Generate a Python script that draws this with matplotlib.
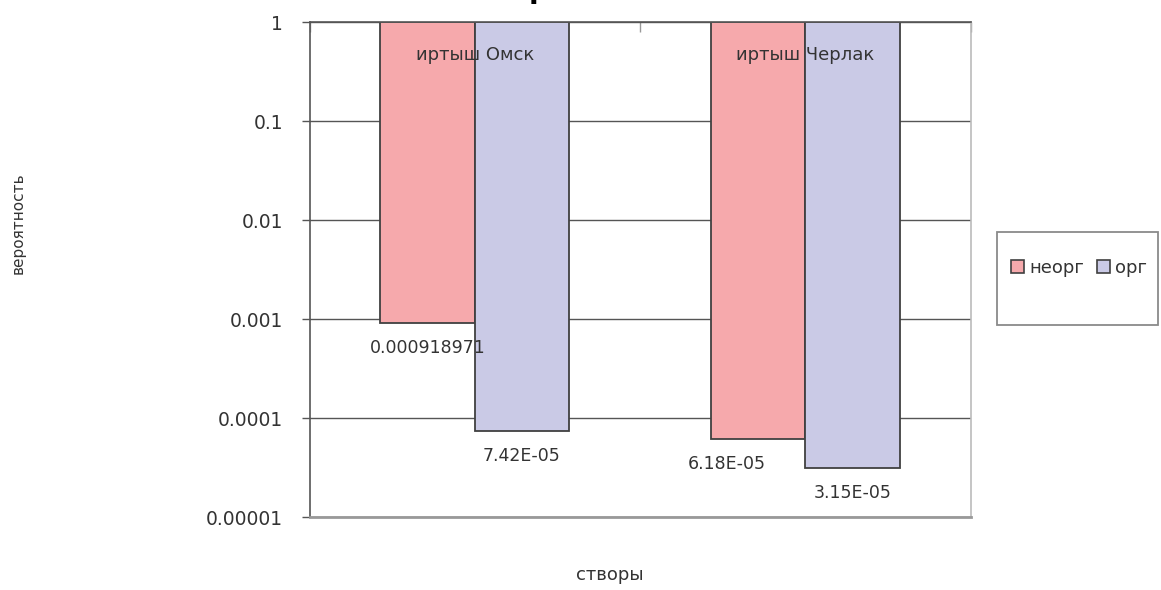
import matplotlib
matplotlib.use("Agg")
import matplotlib.pyplot as plt
from matplotlib.patches import Patch, Rectangle
from matplotlib.ticker import FixedLocator, NullLocator
import matplotlib.transforms as mtransforms

# ---- data ----
categories = ["иртыш Омск", "иртыш Черлак"]
series_names = ["неорг", "орг"]
neorg_values = [0.000918971, 6.18e-05]
org_values = [7.42e-05, 3.15e-05]
neorg_labels = ["0.000918971", "6.18E-05"]
org_labels = ["7.42E-05", "3.15E-05"]
ytick_values = [1e-5, 1e-4, 1e-3, 1e-2, 1e-1, 1]
ytick_labels = ["0.00001", "0.0001", "0.001", "0.01", "0.1", "1"]
x_label = "створы"
y_label = "вероятность"

# ---- style ----
red = "#F6A9AC"
blue = "#CACAE6"
edge = "#404040"
txt = "#333333"
W, H = 1161, 590

plt.rcParams["font.family"] = ["DejaVu Sans"]
fig = plt.figure(figsize=(W / 100, H / 100), dpi=100)
fig.patch.set_facecolor("white")

left, right, top, bottom = 309.5, 970.5, 22.3, 517.3
ax = fig.add_axes([left / W, 1 - bottom / H, (right - left) / W, (bottom - top) / H])
ax.set_yscale("log")
ax.set_ylim(ytick_values[0], ytick_values[-1])
ax.set_xlim(-0.5, len(categories) - 0.5)
ymax = ax.get_ylim()[1]

bw = 0.2857
xs = list(range(len(categories)))
for i, (vals, col) in enumerate([(neorg_values, red), (org_values, blue)]):
    pos = [x + (i - 0.5) * bw for x in xs]
    ax.bar(pos, [ymax - v for v in vals], bottom=vals, width=bw,
           color=col, edgecolor=edge, linewidth=1.3, zorder=3)

# data labels
label_dx = [[0, -22.3], [0, 0]]  # points, per series per category
for i, (vals, labs) in enumerate([(neorg_values, neorg_labels), (org_values, org_labels)]):
    for j, (v, lab) in enumerate(zip(vals, labs)):
        ax.annotate(lab, xy=(xs[j] + (i - 0.5) * bw, v), xytext=(label_dx[i][j], -18),
                    textcoords="offset points", ha="center", va="center",
                    fontsize=12.5, color=txt, zorder=5)

# category labels inside top of plot
trans = mtransforms.blended_transform_factory(ax.transData, ax.transAxes)
for x, c in zip(xs, categories):
    ax.text(x, 0.933, c, transform=trans, ha="center", va="center",
            fontsize=13, color=txt, zorder=5)

# y axis
ax.yaxis.set_major_locator(FixedLocator(ytick_values))
ax.yaxis.set_minor_locator(NullLocator())
ax.set_yticklabels(ytick_labels)
ax.tick_params(axis="y", direction="out", length=6, width=1, color="#555555",
               labelsize=13.5, labelcolor=txt, pad=13)
ax.grid(axis="y", color="#555555", linewidth=1.0, zorder=1)

# x axis ticks at top between categories
ax.xaxis.set_major_locator(FixedLocator([-0.5, 0.5, 1.5]))
ax.xaxis.set_minor_locator(NullLocator())
ax.tick_params(axis="x", which="both", bottom=False, top=True, direction="in",
               length=7, width=1, color="#999999", labelbottom=False, labeltop=False)

for s, sp in ax.spines.items():
    sp.set_zorder(4)
ax.spines["left"].set_color("#555555")
ax.spines["left"].set_linewidth(1.2)
ax.spines["top"].set_color("#555555")
ax.spines["top"].set_linewidth(1.2)
ax.spines["bottom"].set_color("#999999")
ax.spines["bottom"].set_linewidth(2)
ax.spines["right"].set_color("#bbbbbb")
ax.spines["right"].set_linewidth(1.2)

# axis titles
fig.text(18 / W, 1 - 223 / H, y_label, rotation=90, ha="center", va="center",
         fontsize=11, color=txt)
fig.text(610 / W, 1 - 575 / H, x_label, ha="center", va="center",
         fontsize=13, color=txt)

# cut-off title fragment at top
fig.text(529 / W, 1 + 1.5 / H, "р", ha="left", va="baseline",
         fontsize=20, fontweight="bold", color="black")

# legend
fig.patches.append(Rectangle((997.3 / W, 1 - 325 / H), (1158 - 997.3) / W, (325 - 232) / H,
                             transform=fig.transFigure, fill=False,
                             edgecolor="#8a8a8a", linewidth=1.3))
handles = [Patch(facecolor=red, edgecolor=edge, linewidth=1.2),
           Patch(facecolor=blue, edgecolor=edge, linewidth=1.2)]
leg = fig.legend(handles, series_names, ncol=2, frameon=False, loc="center left",
                 bbox_to_anchor=(1011 / W, 1 - 268 / H), borderpad=0, borderaxespad=0,
                 handlelength=0.72, handleheight=0.72, handletextpad=0.3,
                 columnspacing=0.7, fontsize=13)
for t in leg.get_texts():
    t.set_color(txt)

fig.savefig("out.png", dpi=100, facecolor="white")
